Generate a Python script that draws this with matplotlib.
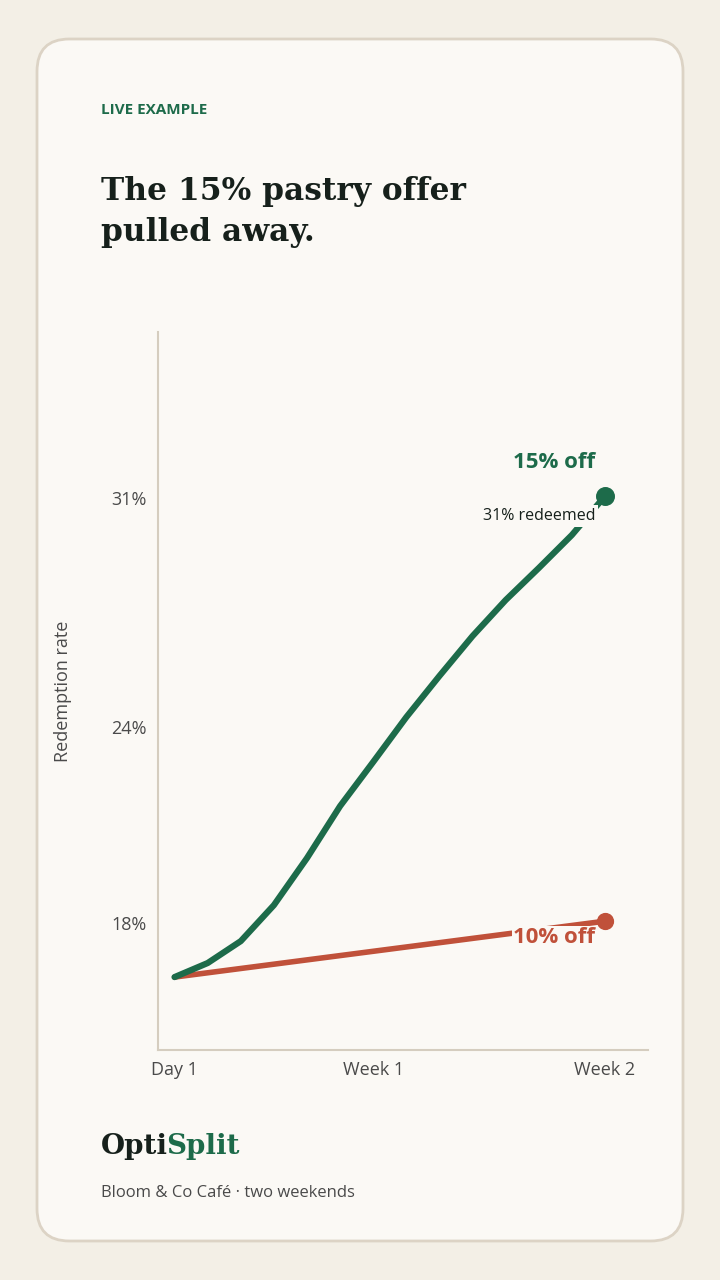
import matplotlib
matplotlib.use("Agg")
import matplotlib.pyplot as plt
from matplotlib.patches import FancyBboxPatch

days = [1,2,3,4,5,6,7,8,9,10,11,12,13,14]
green = [16.35,16.78,17.45,18.55,19.99,21.58,22.93,24.3,25.56,26.78,27.88,28.86,29.87,31.06]
red_x = [1,14]
red = [16.35,18.06]
xticks = [1,7,14]
xlabels = ["Day 1","Week 1","Week 2"]
yticks = [18,24,31]
ylabels = ["18%","24%","31%"]

G = "#1d6b4a"; R = "#c0513a"; INK = "#16201b"; GREY = "#4a4a4a"
SANS = ["Open Sans","DejaVu Sans"]

fig = plt.figure(figsize=(7.2,12.8), dpi=100)
fig.patch.set_facecolor("#f3efe6")
card = FancyBboxPatch((37/720, 1-1241/1280), 646/720, 1202/1280,
                      boxstyle="round,pad=0,rounding_size=0.045", transform=fig.transFigure,
                      facecolor="#fbf9f5", edgecolor="#dcd3c5", linewidth=2, mutation_aspect=720/1280, zorder=-5)
fig.patches.append(card)

fig.text(101/720, 1-110/1280, "LIVE EXAMPLE", color=G, fontsize=11, fontweight="bold", family=SANS, va="center")
fig.text(101/720, 1-212/1280, "The 15% pastry offer\npulled away.", color=INK, fontsize=22.5, fontweight="bold",
         family=["DejaVu Serif"], va="center", linespacing=1.45)

ax = fig.add_axes([158/720, 1-1050/1280, 490/720, 718/1280])
ax.set_zorder(2)
ax.set_facecolor("none")
ax.set_xlim(0.5, 15.3)
ax.set_ylim(14.12, 36.08)
ax.plot(days, green, color=G, lw=4.5, solid_capstyle="round", zorder=3)
ax.plot(red_x, red, color=R, lw=4, solid_capstyle="round", zorder=2)
ax.scatter([days[-1]],[green[-1]], s=160, color=G, zorder=5)
ax.scatter([red_x[-1]],[red[-1]], s=130, color=R, zorder=5)
ax.text(13.7, 32.1, "15% off", color=G, fontsize=16, fontweight="bold", family=SANS, ha="right", va="center")
ax.text(13.7, 30.45, "31% redeemed", color=INK, fontsize=11.5, family=SANS, ha="right", va="center", zorder=4,
        bbox=dict(facecolor="#fbf9f5", edgecolor="none", pad=2))
ax.text(13.7, 17.55, "10% off", color=R, fontsize=16, fontweight="bold", family=SANS, ha="right", va="center", zorder=4,
        bbox=dict(facecolor="#fbf9f5", edgecolor="none", pad=1))
for s in ["top","right"]:
    ax.spines[s].set_visible(False)
for s in ["left","bottom"]:
    ax.spines[s].set_color("#d5cdbf"); ax.spines[s].set_linewidth(1.5)
ax.set_xticks(xticks, xlabels, fontsize=13, color=GREY, family=SANS)
ax.set_yticks(yticks, ylabels, fontsize=13, color=GREY, family=SANS)
ax.tick_params(length=0, pad=8)
ax.set_ylabel("Redemption rate", fontsize=13, color=GREY, family=SANS, labelpad=28)

fig.text(101/720, 1-1147/1280, "Opti", color=INK, fontsize=20, fontweight="bold", family=["DejaVu Serif"], va="center")
fig.text(166/720, 1-1147/1280, "Split", color=G, fontsize=20, fontweight="bold", family=["DejaVu Serif"], va="center")
fig.text(101/720, 1-1193/1280, "Bloom & Co Café · two weekends", color=GREY, fontsize=12, family=SANS, va="center")
fig.savefig("out.png", dpi=100, facecolor=fig.get_facecolor())
